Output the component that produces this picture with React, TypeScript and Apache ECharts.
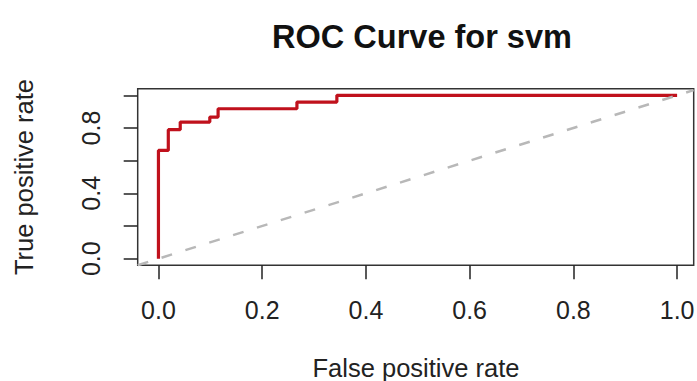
import React, { useEffect, useRef } from "react";
import * as echarts from "echarts";

const titleText = "ROC Curve for svm";
const xName = "False positive rate";
const yName = "True positive rate";

// ROC curve vertices (staircase)
const fpr = [0, 0, 0.019, 0.019, 0.042, 0.042, 0.099, 0.099, 0.115, 0.115, 0.267, 0.267, 0.344, 0.344, 1.0];
const tpr = [0, 0.663, 0.663, 0.79, 0.79, 0.836, 0.836, 0.867, 0.867, 0.918, 0.918, 0.959, 0.959, 1.0, 1.0];

const xTicks = [0, 0.2, 0.4, 0.6, 0.8, 1.0];
const yTicks = [0, 0.2, 0.4, 0.6, 0.8, 1.0];
const yTickLabels = [0, 0.4, 0.8];

const xMin = -0.04;
const xMax = 1.032;
const yMin = -0.04;
const yMax = 1.04;

export default function App() {
  const ref = useRef<HTMLDivElement>(null);
  useEffect(() => {
    if (!ref.current) return;
    const chart = echarts.init(ref.current, null, { renderer: "svg" });
    const font = "'Liberation Sans', Arial, sans-serif";
    const roc = fpr.map((x, i) => [x, tpr[i]]);
    const diag = [
      [xMin, xMin],
      [xMax, xMax],
    ];
    chart.setOption({
      animation: false,
      backgroundColor: "#ffffff",
      title: {
        text: titleText,
        left: 417,
        top: 15,
        textAlign: "center",
        textStyle: { fontFamily: font, fontWeight: "bold", fontSize: 32.5, color: "#111" },
      },
      graphic: [
        {
          type: "text",
          style: {
            text: xName,
            x: 416,
            y: 367.5,
            align: "center",
            verticalAlign: "middle",
            fontFamily: font,
            fontSize: 25.5,
            fill: "#222",
          },
        },
      ],
      grid: {
        left: 137.7,
        top: 88.8,
        width: 556,
        height: 176.4,
        show: true,
        borderColor: "#333",
        borderWidth: 1.5,
        backgroundColor: "transparent",
        containLabel: false,
        outerBoundsMode: "none",
      },
      xAxis: {
        type: "value",
        min: xMin,
        max: xMax,
        axisLine: { show: false, onZero: false },
        splitLine: { show: false },
        axisTick: {
          show: true,
          length: 14,
          customValues: xTicks,
          lineStyle: { color: "#222", width: 1.5 },
        },
        axisLabel: {
          customValues: xTicks,
          margin: 32,
          fontFamily: font,
          fontSize: 25,
          color: "#222",
          formatter: (v: number) => v.toFixed(1),
        },
      },
      yAxis: {
        type: "value",
        min: yMin,
        max: yMax,
        name: yName,
        nameLocation: "middle",
        nameRotate: 90,
        nameGap: 101,
        nameTextStyle: { fontFamily: font, fontSize: 25.5, color: "#222" },
        axisLine: { show: false, onZero: false },
        splitLine: { show: false },
        axisTick: {
          show: true,
          length: 14,
          customValues: yTicks,
          lineStyle: { color: "#222", width: 1.5 },
        },
        axisLabel: {
          customValues: yTickLabels,
          rotate: 90,
          margin: 34,
          fontFamily: font,
          fontSize: 25,
          color: "#222",
          formatter: (v: number) => v.toFixed(1),
        },
      },
      series: [
        {
          type: "line",
          data: roc,
          showSymbol: false,
          symbol: "none",
          lineStyle: { color: "#c0111c", width: 3.2 },
          z: 2,
        },
        {
          type: "line",
          data: diag,
          showSymbol: false,
          symbol: "none",
          lineStyle: { color: "#b8b8b8", width: 2.5, type: [11, 14] },
          z: 3,
        },
      ],
    });
    return () => chart.dispose();
  }, []);
  return <div ref={ref} style={{ width: 697, height: 381, position: "absolute", left: 0, top: 0 }} />;
}
